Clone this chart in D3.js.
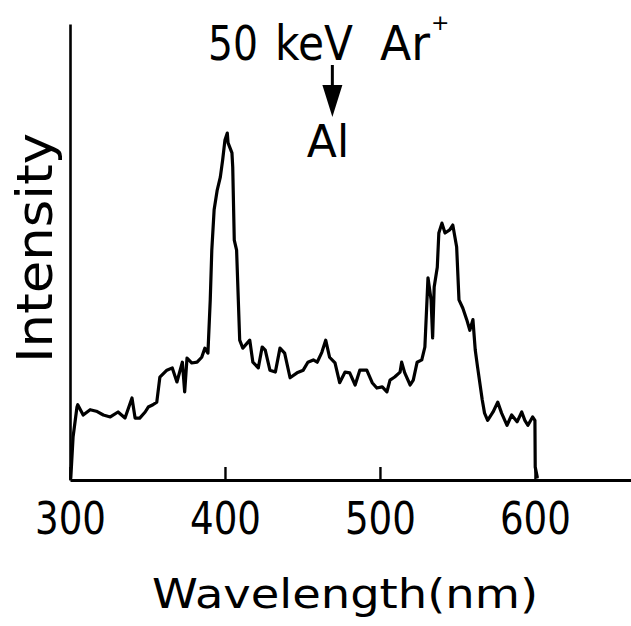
<!DOCTYPE html>
<html>
<head>
<meta charset="utf-8">
<script src="https://cdn.jsdelivr.net/npm/d3@7"></script>
<style>
  html, body { margin: 0; padding: 0; background: #fff; }
  svg { display: block; }
  text { font-family: "DejaVu Sans", sans-serif; fill: #000; }
</style>
</head>
<body>
<svg id="chart" width="631" height="626"></svg>
<script>
// Luminescence spectrum of Al under 50 keV Ar+ bombardment (intensity in arbitrary units)
const wavelength = [
  300.5, 302, 304.5, 305, 308.5, 313, 317, 321.5, 326, 331, 335.5, 340, 342, 345, 348.5,
  350.5, 353.5, 356, 358, 362.5, 366, 369, 372.5, 374, 375.5, 378.5, 382, 385, 387, 389,
  390.5, 391.5, 393, 395, 397, 398.5, 400, 401.5, 402, 404.5, 405, 406, 407.5, 409.5, 411.5,
  416, 418, 421.5, 424, 426, 429, 432.5, 435.5, 438.5, 442, 446.5, 450.5, 453.5, 457, 459.5,
  462.5, 465, 467.5, 471, 474, 477.5, 480.5, 484, 487, 491.5, 495, 498, 501.5, 504.5, 506.5,
  509.5, 513, 514, 516, 519.5, 521.5, 524, 527, 529, 531, 533, 534, 535, 537, 538,
  540, 542, 545, 547, 549.5, 551, 553.5, 556, 558, 560, 561.5, 563, 566, 567.5, 569.5,
  573, 576, 578.5, 582, 585, 588.5, 591.5, 593.5, 595.5, 598.5, 600, 600.2, 601.5
];
const intensity = [
  0.5, 11.4, 19.2, 19.8, 17.1, 18.5, 18.1, 17.1, 16.6, 17.9, 16.3, 21.6, 16.3, 16.3, 17.9,
  19.2, 19.8, 20.5, 27.1, 28.9, 29.5, 25.8, 31.0, 23.2, 32.1, 30.8, 31.0, 32.3, 34.7, 33.4,
  47.4, 60.5, 71.1, 76.3, 79.7, 84.2, 89.5, 91.3, 88.7, 86.1, 82.4, 63.1, 60.5, 36.8, 34.7,
  36.8, 31.0, 29.5, 35.0, 34.2, 28.9, 28.4, 34.7, 33.4, 26.9, 28.2, 28.9, 31.0, 31.6, 31.0,
  33.6, 36.8, 32.3, 30.8, 25.6, 28.4, 28.2, 25.0, 28.9, 28.9, 25.6, 24.2, 24.5, 23.2, 26.3,
  27.1, 28.4, 31.0, 28.2, 25.0, 26.3, 31.0, 31.6, 35.0, 53.2, 47.4, 37.4, 50.8, 56.0, 65.0,
  67.6, 65.0, 65.8, 67.1, 61.3, 47.4, 45.2, 42.2, 39.4, 42.2, 34.2, 29.7, 21.1, 17.6, 15.7,
  17.9, 20.5, 17.6, 14.4, 17.1, 15.3, 17.9, 15.7, 14.4, 16.6, 15.7, 3.4, 0.8
];
const xTicks = [300, 400, 500, 600];
const xLabel = "Wavelength(nm)";
const yLabel = "Intensity";
const beamLabel = ["50", "keV", "Ar"];
const targetLabel = "Al";
const arrowAt = 468; // wavelength position of the marker arrow

const svg = d3.select("#chart");
svg.append("rect").attr("width", 631).attr("height", 626).attr("fill", "#fff");

const x = d3.scaleLinear().domain([300, 662]).range([70, 631]);
const y = d3.scaleLinear().domain([0, 120]).range([480, 24]);

// x axis: inward ticks, line running to the right edge
const xAxis = d3.axisBottom(x)
  .tickValues(xTicks)
  .tickSizeInner(-13)
  .tickSizeOuter(0)
  .tickPadding(0);
const gx = svg.append("g").attr("transform", "translate(0,480)").call(xAxis);
gx.select(".domain").attr("stroke", "#000").attr("stroke-width", 2.8);
gx.selectAll(".tick line").attr("stroke", "#000").attr("stroke-width", 2.4);
gx.selectAll(".tick text")
  .attr("y", 54).attr("dy", null)
  .attr("font-size", 44)
  .attr("font-family", "DejaVu Sans, sans-serif")
  .attr("text-anchor", "middle")
  .attr("textLength", 71)
  .attr("lengthAdjust", "spacingAndGlyphs");
gx.attr("font-family", null).attr("font-size", null);

// y axis: plain line without ticks
const yAxis = d3.axisLeft(y).tickValues([]).tickSizeOuter(0);
const gy = svg.append("g").attr("transform", "translate(70,0)").call(yAxis);
gy.select(".domain").attr("stroke", "#000").attr("stroke-width", 2.6);

// spectrum trace
const pts = wavelength.map((w, i) => [w, intensity[i]]);
const line = d3.line().x(d => x(d[0])).y(d => y(d[1]));
svg.append("path")
  .datum(pts)
  .attr("d", line)
  .attr("fill", "none")
  .attr("stroke", "#000")
  .attr("stroke-width", 3.2)
  .attr("stroke-linejoin", "round")
  .attr("stroke-linecap", "round");

// axis titles
svg.append("text")
  .attr("x", 152).attr("y", 608)
  .attr("font-size", 40)
  .attr("textLength", 386)
  .attr("lengthAdjust", "spacingAndGlyphs")
  .text(xLabel);

svg.append("text")
  .attr("transform", "translate(52,248) rotate(-90)")
  .attr("text-anchor", "middle")
  .attr("font-size", 50)
  .attr("textLength", 230)
  .attr("lengthAdjust", "spacingAndGlyphs")
  .text(yLabel);

// beam annotation
const beamPos = [[208, 50], [275, 78], [380, 50]];
beamLabel.forEach((t, i) => {
  svg.append("text")
    .attr("x", beamPos[i][0]).attr("y", 60)
    .attr("font-size", 48)
    .attr("textLength", beamPos[i][1])
    .attr("lengthAdjust", "spacingAndGlyphs")
    .text(t);
});
svg.append("text")
  .attr("x", 431).attr("y", 30)
  .attr("font-size", 22)
  .text("+");

// arrow pointing at the sample label
const ax = x(arrowAt) + 2;
svg.append("line")
  .attr("x1", ax).attr("x2", ax).attr("y1", 65).attr("y2", 92)
  .attr("stroke", "#000").attr("stroke-width", 3);
svg.append("path")
  .attr("d", `M${ax - 10},85 L${ax + 10},85 L${ax},117 Z`)
  .attr("fill", "#000");

svg.append("text")
  .attr("x", 328).attr("y", 157)
  .attr("text-anchor", "middle")
  .attr("font-size", 44)
  .text(targetLabel);
</script>
</body>
</html>
